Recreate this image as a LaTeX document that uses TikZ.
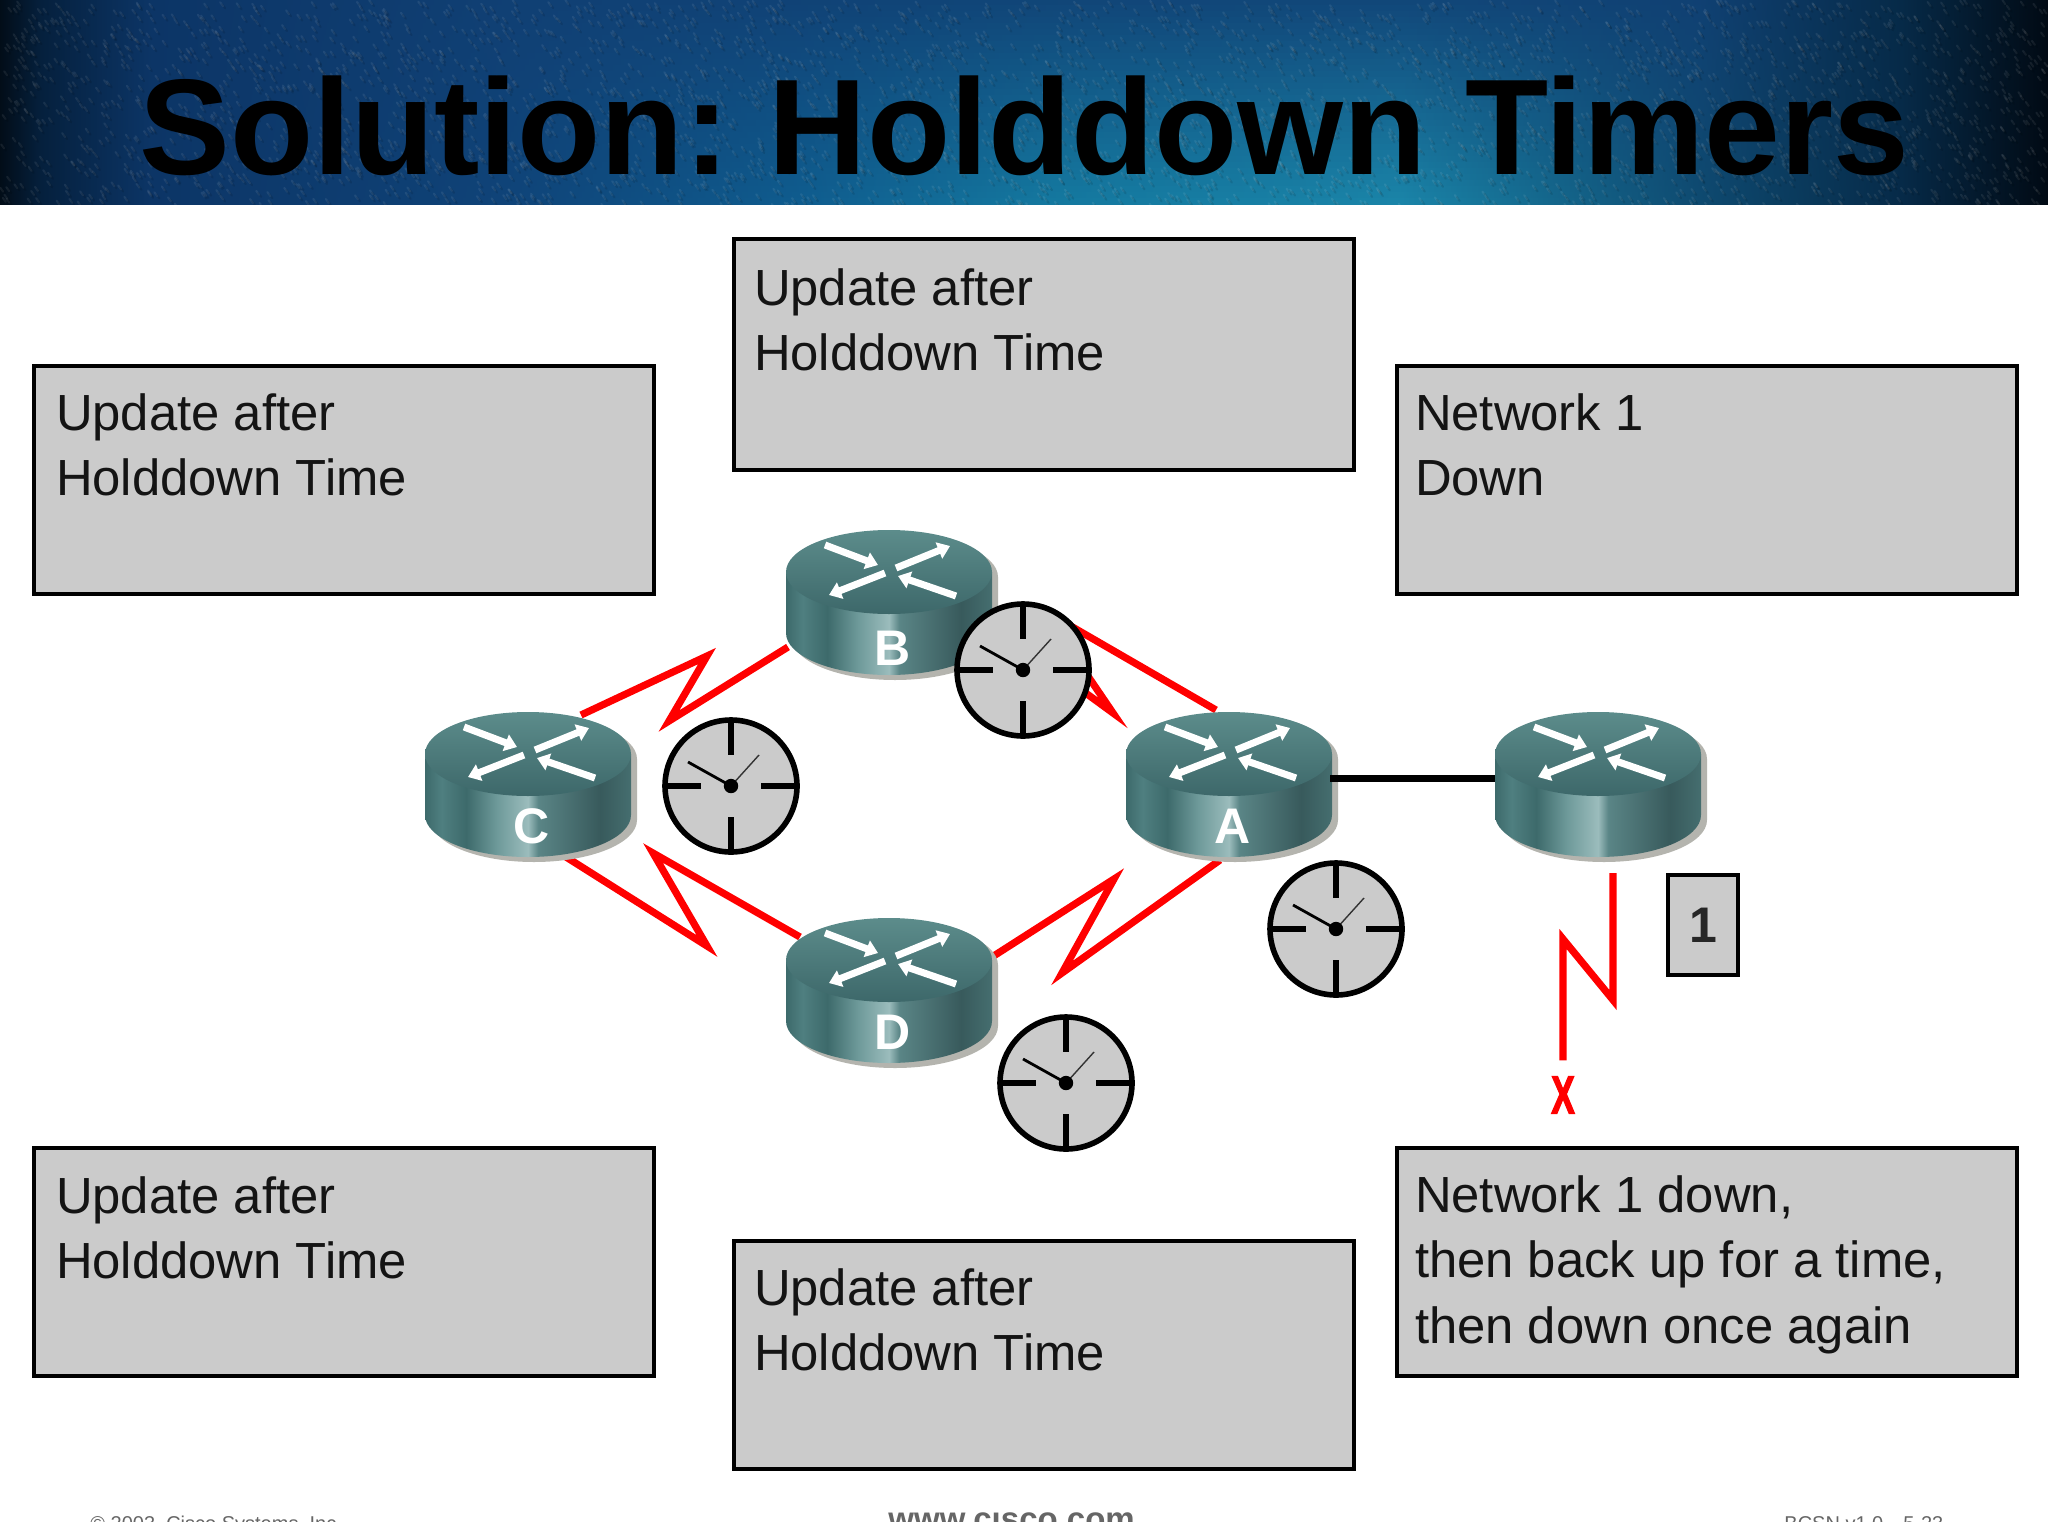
\documentclass[tikz,border=0pt]{standalone}
\usepackage{fontspec}
\setmainfont{Liberation Sans}
\newfontfamily\heavyfont[BoldFeatures={FakeBold=3}]{Liberation Sans}
\usetikzlibrary{calc,arrows.meta,backgrounds}
\definecolor{hA}{HTML}{020D18}\definecolor{hB}{HTML}{05203D}\definecolor{hC}{HTML}{0C3566}
\definecolor{hD}{HTML}{0F4378}\definecolor{hE}{HTML}{0F5C8E}\definecolor{hF}{HTML}{14789F}
\definecolor{hG}{HTML}{1A84A8}\definecolor{hH}{HTML}{0E4A70}\definecolor{hI}{HTML}{062A48}
\definecolor{hJ}{HTML}{010A14}\definecolor{hK}{HTML}{103F73}
\definecolor{panelgrey}{HTML}{CBCBCB}
\definecolor{rA}{HTML}{3D6A6B}\definecolor{rB}{HTML}{4F7F80}\definecolor{rC}{HTML}{6E9A9A}
\definecolor{rD}{HTML}{9BBCBC}\definecolor{rE}{HTML}{5A8586}\definecolor{rF}{HTML}{385A5C}
\definecolor{rG}{HTML}{456E6F}\definecolor{rTop}{HTML}{6E9C9A}\definecolor{rMid}{HTML}{5C8C8B}
\definecolor{rLow}{HTML}{3D686A}\definecolor{rShadow}{HTML}{B4B4AE}
\pgfdeclarehorizontalshading{routerside}{100bp}{color(0bp)=(rA);color(25bp)=(rA);color(29bp)=(rB);color(35bp)=(rA);color(42.5bp)=(rC);color(50bp)=(rD);color(52.5bp)=(rE);color(67.5bp)=(rF);color(75bp)=(rG);color(100bp)=(rG)}
\tikzset{
  panel/.style={draw=black,line width=1.8pt,fill=panelgrey,anchor=north west,minimum width=310pt,minimum height=114pt,inner sep=0pt,outer sep=0pt},
  paneltext/.style={anchor=north west,align=left,inner sep=0pt,outer sep=0pt,text=black!92,font=\fontsize{25.4}{32.9}\selectfont},
  routerlabel/.style={text=white,inner sep=0pt,font=\bfseries\fontsize{25}{25}\selectfont},
  routerarrow/.style={white,line width=3.5pt,-{Triangle[length=6pt,width=8.5pt]}},
  redlink/.style={red,line width=3.6pt,line join=miter,miter limit=12},
  clockface/.style={circle,draw=black,fill=panelgrey,line width=2.8pt,minimum size=66pt,inner sep=0pt,outer sep=0pt},
  clocktick/.style={black,line width=2.8pt},
  footertext/.style={anchor=base west,inner sep=0pt,text=black!60}
}
\newcommand{\routericon}[5][114]{%
  \begin{scope}[shift={(#3,#4)}]
    \fill[rShadow] (6,47) -- (6,108) arc[start angle=180,end angle=360,x radius=51.5pt,y radius=21pt] -- (212,47) arc[start angle=0,end angle=180,x radius=51.5pt,y radius=21pt] -- cycle;
    \path[shading=routerside] (0,42) -- (0,103) arc[start angle=180,end angle=360,x radius=51.5pt,y radius=21pt] -- (206,42) -- cycle;
    \path[top color=rMid,middle color=rTop,bottom color=rLow] (103,42) ellipse [x radius=51.5pt,y radius=21pt];
    \draw[routerarrow] (39,15) -- (92,35);
    \draw[routerarrow] (110,38) -- (164,16);
    \draw[routerarrow] (99,43) -- (43,65);
    \draw[routerarrow] (170,66) -- (112,46);
    \node[inner sep=0pt,minimum width=104pt,minimum height=75pt] (#2) at (105,75) {};
    \ifx&#5&\else\node[routerlabel] (#2label) at (106.5,#1) {#5};\fi
  \end{scope}}
\newcommand{\clockicon}[3]{%
  \begin{scope}[shift={(#2,#3)}]
    \node[clockface] (#1) at (0,0) {};
    \draw[clocktick] (0,-66) -- (0,-31);
    \draw[clocktick] (0,66) -- (0,31);
    \draw[clocktick] (-66,0) -- (-30,0);
    \draw[clocktick] (66,0) -- (30,0);
    \draw[black!80,line width=.7pt] (0,0) -- (28,-31);
    \draw[black,line width=1.4pt] (0,0) -- (-43,-24);
    \fill[black] (0,0) circle [radius=3.6pt];
  \end{scope}}
\begin{document}
\begin{tikzpicture}[x=0.5pt,y=-0.5pt]
\useasboundingbox (0,0) rectangle (2048,1536);
% page
\begin{pgfonlayer}{background}
  \fill[white] (0,0) rectangle (2048,1536);
\end{pgfonlayer}
% header band: rows blend from the navy of the top edge to the teal of the bottom edge
\foreach \k in {0,...,33}{
  \pgfmathsetmacro{\mixv}{int(round(100*(0.12+0.88*\k/33)))}
  \edef\doshade{\noexpand\pgfdeclarehorizontalshading{hdr\k}{100bp}{color(0bp)=(hA);color(25bp)=(hA);color(26bp)=(hB);color(28.7bp)=(hC);color(37.2bp)=(hD!\mixv!hK);color(44.5bp)=(hE!\mixv!hK);color(50.6bp)=(hF!\mixv!hK);color(59.2bp)=(hG!\mixv!hK);color(66.5bp)=(hH!\mixv!hK);color(71.4bp)=(hI);color(75bp)=(hJ);color(100bp)=(hJ)}}
  \doshade
  \pgfmathsetmacro{\ytop}{\k*6}
  \pgfmathsetmacro{\ybot}{min(204,\k*6+8)}
  \path[shading=hdr\k] (0,\ytop) rectangle (2048,\ybot);
}
\begin{scope}
  \clip (0,0) rectangle (2048,204);
  \pgfmathsetseed{4711}
  \foreach \i in {1,...,3600}{
    \pgfmathsetmacro{\xa}{rnd*2048}
    \pgfmathsetmacro{\ya}{rnd*204}
    \draw[white,opacity=0.08,line width=1pt,line cap=round] (\xa,\ya) -- ++(3,4);
    \draw[black,opacity=0.10,line width=1pt,line cap=round] (\xa+2,\ya+2) -- ++(3,4);
  }
\end{scope}
\node[anchor=base west,inner sep=0pt,text=black,font=\bfseries\fontsize{68.1}{70}\selectfont] (title) at (139,174) {Solution:\hspace{-5.5pt} Holddown Timers};
% panels
\node[panel,minimum height=115.5pt] (ptop) at (734,239) {};
\node[paneltext] (ptopt) at (754,245) {\rule{0pt}{30pt}Update after\\Holddown Time};
\node[panel] (pleft) at (34,366) {};
\node[paneltext] (pleftt) at (56,370) {\rule{0pt}{30pt}Update after\\Holddown Time};
\node[panel] (pright) at (1397,366) {};
\node[paneltext] (prightt) at (1415,370) {\rule{0pt}{30pt}Network 1\\Down};
\node[panel] (pbl) at (34,1148) {};
\node[paneltext] (pblt) at (56,1153) {\rule{0pt}{30pt}Update after\\Holddown Time};
\node[panel] (pbm) at (734,1241) {};
\node[paneltext] (pbmt) at (754,1245) {\rule{0pt}{30pt}Update after\\Holddown Time};
\node[panel] (pbr) at (1397,1148) {};
\node[paneltext] (pbrt) at (1415,1152) {\rule{0pt}{30pt}Network 1 down,\\then back up for a time,\\then down once again};
% routers
\routericon{C}{425}{712}{C}
\routericon[118]{B}{786}{530}{B}
\routericon{A}{1126}{712}{A}
\routericon{R}{1495}{712}{}
\routericon{D}{786}{918}{D}
% links under the routers and clocks
\node[text=red,inner sep=0pt,font=\heavyfont\bfseries\fontsize{26.5}{27}\selectfont,xscale=.66] (netx) at (1563,1095) {X};
\begin{pgfonlayer}{background}
  \draw[redlink] ($(C.center)+(51,-72)$) -- (707,656) -- (669,721) -- ($(B.center)+(-103,42)$);
  \draw[redlink] ($(C.center)+(36,70)$) -- (707,946) -- (653,853) -- ($(D.center)+(-91,-56)$);
  \draw[redlink] ($(D.center)+(101,-36)$) -- (1114,879) -- (1062,973) -- ($(A.center)+(-11,73)$);
  \draw[redlink] ($(B.center)+(99,18)$) -- (1113,713) -- (1043,610);
  \draw[redlink] (1043,610) -- ($(A.center)+(-15,-77)$);
  \draw[redlink] ($(R.center)+(13,86)$) -- (1613,1000) -- (1563,939) -- ($(netx.north)+(0,-16)$);
\end{pgfonlayer}
\draw[black,line width=3.5pt] ($(A.center)+(99,-9)$) -- ($(R.center)+(-105,-9)$);
% clocks
\clockicon{clockB}{1023}{670}
\clockicon{clockC}{731}{786}
\clockicon{clockA}{1336}{929}
\clockicon{clockD}{1066}{1083}
% network tag
\node[draw=black,line width=1.8pt,fill=panelgrey,minimum width=35pt,minimum height=50pt,inner sep=0pt,font=\bfseries\fontsize{25}{25}\selectfont,text=black!85] (net1) at (1703,925) {1\hspace{3pt}};
% clipped footer
\begin{scope}
  \clip (0,1512) rectangle (2048,1521);
  \node[footertext,font=\fontsize{10}{10}\selectfont] (fl) at (90,1530) {© 2003, Cisco Systems, Inc.};
  \node[footertext,font=\bfseries\fontsize{16.5}{17}\selectfont] (fm) at (888,1530) {www.cisco.com};
  \node[footertext,font=\fontsize{10}{10}\selectfont] (fr) at (1784,1530) {BCSN v1.0—5-23};
\end{scope}
\end{tikzpicture}
\end{document}
